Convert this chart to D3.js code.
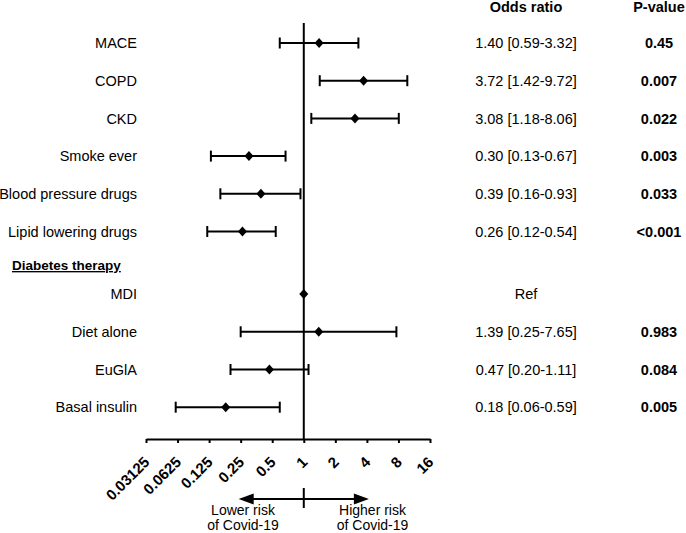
<!DOCTYPE html>
<html>
<head>
<meta charset="utf-8">
<script src="https://cdn.jsdelivr.net/npm/d3@7"></script>
<style>
  html, body { margin: 0; padding: 0; background: #fff; }
  svg { display: block; font-family: "Liberation Sans", Arial, sans-serif; }
</style>
</head>
<body>
<svg id="chart" width="686" height="533"></svg>
<script>
// ---- data ----
const labels = ["MACE", "COPD", "CKD", "Smoke ever", "Blood pressure drugs", "Lipid lowering drugs",
                "MDI", "Diet alone", "EuGlA", "Basal insulin"];
const oddsRatio = [1.40, 3.72, 3.08, 0.30, 0.39, 0.26, 1, 1.39, 0.47, 0.18];
const ciLow  = [0.59, 1.42, 1.18, 0.13, 0.16, 0.12, null, 0.25, 0.20, 0.06];
const ciHigh = [3.32, 9.72, 8.06, 0.67, 0.93, 0.54, null, 7.65, 1.11, 0.59];
const orText = ["1.40 [0.59-3.32]", "3.72 [1.42-9.72]", "3.08 [1.18-8.06]", "0.30 [0.13-0.67]",
                "0.39 [0.16-0.93]", "0.26 [0.12-0.54]", "Ref", "1.39 [0.25-7.65]",
                "0.47 [0.20-1.11]", "0.18 [0.06-0.59]"];
const pValues = ["0.45", "0.007", "0.022", "0.003", "0.033", "<0.001", "", "0.983", "0.084", "0.005"];
const tickValues = [0.03125, 0.0625, 0.125, 0.25, 0.5, 1, 2, 4, 8, 16];
const groupHeader = "Diabetes therapy";
const groupStart = 6;

// ---- layout ----
const svg = d3.select("#chart");
const x = d3.scaleLog().base(2).domain([0.03125, 16]).range([146, 430]);
const yStep = d3.scaleLinear().domain([0, 1]).range([43, 80.7]);
const rowY = i => yStep(i + (i >= groupStart ? 0.66 : 0));
const axisY = 439;
const fs = "14.5px";

// vertical reference line at OR = 1
svg.append("line")
  .attr("x1", x(1)).attr("x2", x(1))
  .attr("y1", 23).attr("y2", axisY)
  .attr("stroke", "#000").attr("stroke-width", 2);

// x axis
const axis = d3.axisBottom(x).tickValues(tickValues).tickSize(4).tickSizeOuter(0).tickFormat(d => String(d));
const gAxis = svg.append("g").attr("transform", `translate(0,${axisY})`).call(axis);
gAxis.select(".domain").attr("stroke", "#000").attr("stroke-width", 2);
gAxis.selectAll(".tick line").attr("stroke", "#000").attr("stroke-width", 2);
gAxis.selectAll(".tick text")
  .attr("font-family", "Liberation Sans, Arial, sans-serif")
  .attr("font-size", "15px")
  .attr("font-weight", "bold")
  .attr("fill", "#000")
  .attr("text-anchor", "end")
  .attr("x", 0).attr("y", 0).attr("dy", 0)
  .attr("transform", "translate(4,24) rotate(-45)");

// rows
const rows = svg.append("g").selectAll("g").data(labels).join("g");

rows.append("text")
  .attr("x", 137).attr("y", (d, i) => rowY(i) + 5.2)
  .attr("text-anchor", "end").attr("font-size", fs).attr("fill", "#000")
  .text(d => d);

const ci = rows.filter((d, i) => ciLow[i] != null);
ci.append("line")
  .attr("x1", d => x(ciLow[labels.indexOf(d)]))
  .attr("x2", d => x(ciHigh[labels.indexOf(d)]))
  .attr("y1", d => rowY(labels.indexOf(d))).attr("y2", d => rowY(labels.indexOf(d)))
  .attr("stroke", "#000").attr("stroke-width", 2);
["low", "high"].forEach(side => {
  ci.append("line")
    .attr("x1", d => x((side === "low" ? ciLow : ciHigh)[labels.indexOf(d)]))
    .attr("x2", d => x((side === "low" ? ciLow : ciHigh)[labels.indexOf(d)]))
    .attr("y1", d => rowY(labels.indexOf(d)) - 5.5)
    .attr("y2", d => rowY(labels.indexOf(d)) + 5.5)
    .attr("stroke", "#000").attr("stroke-width", 2);
});

// diamonds
rows.append("path")
  .attr("d", (d, i) => {
    const cx = x(oddsRatio[i]), cy = rowY(i);
    return `M${cx},${cy - 5}L${cx + 4.5},${cy}L${cx},${cy + 5}L${cx - 4.5},${cy}Z`;
  })
  .attr("fill", "#000");

// odds ratio text
rows.append("text")
  .attr("x", 526).attr("y", (d, i) => rowY(i) + 5.2)
  .attr("text-anchor", "middle").attr("font-size", fs).attr("fill", "#000")
  .text((d, i) => orText[i]);

// p-values
rows.append("text")
  .attr("x", 659).attr("y", (d, i) => rowY(i) + 5.2)
  .attr("text-anchor", "middle").attr("font-size", fs).attr("font-weight", "bold").attr("fill", "#000")
  .text((d, i) => pValues[i]);

// column headers
svg.append("text").attr("x", 526).attr("y", 12)
  .attr("text-anchor", "middle").attr("font-size", fs).attr("font-weight", "bold").text("Odds ratio");
svg.append("text").attr("x", 659).attr("y", 12)
  .attr("text-anchor", "middle").attr("font-size", fs).attr("font-weight", "bold").text("P-value");

// group header
svg.append("text").attr("x", 12).attr("y", 270)
  .attr("font-size", "13.5px").attr("font-weight", "bold")
  .attr("text-decoration", "underline").text(groupHeader);

// bottom arrows
const arrowY = 499;
const g2 = svg.append("g");
g2.append("line").attr("x1", x(0.25) + 12).attr("x2", x(4) - 12)
  .attr("y1", arrowY).attr("y2", arrowY).attr("stroke", "#000").attr("stroke-width", 2);
g2.append("path")
  .attr("d", `M${x(0.25) - 2},${arrowY}L${x(0.25) + 13},${arrowY - 5.5}L${x(0.25) + 13},${arrowY + 5.5}Z`)
  .attr("fill", "#000");
g2.append("path")
  .attr("d", `M${x(4) + 2},${arrowY}L${x(4) - 13},${arrowY - 5.5}L${x(4) - 13},${arrowY + 5.5}Z`)
  .attr("fill", "#000");
g2.append("line").attr("x1", x(1)).attr("x2", x(1))
  .attr("y1", arrowY - 11).attr("y2", arrowY + 9).attr("stroke", "#000").attr("stroke-width", 2);

const lowerLines = ["Lower risk", "of Covid-19"];
const higherLines = ["Higher risk", "of Covid-19"];
g2.selectAll("text.lo").data(lowerLines).join("text")
  .attr("x", 243).attr("y", (d, i) => 515 + i * 15)
  .attr("text-anchor", "middle").attr("font-size", "14px").text(d => d);
g2.selectAll("text.hi").data(higherLines).join("text")
  .attr("x", 372.5).attr("y", (d, i) => 515 + i * 15)
  .attr("text-anchor", "middle").attr("font-size", "14px").text(d => d);
</script>
</body>
</html>
